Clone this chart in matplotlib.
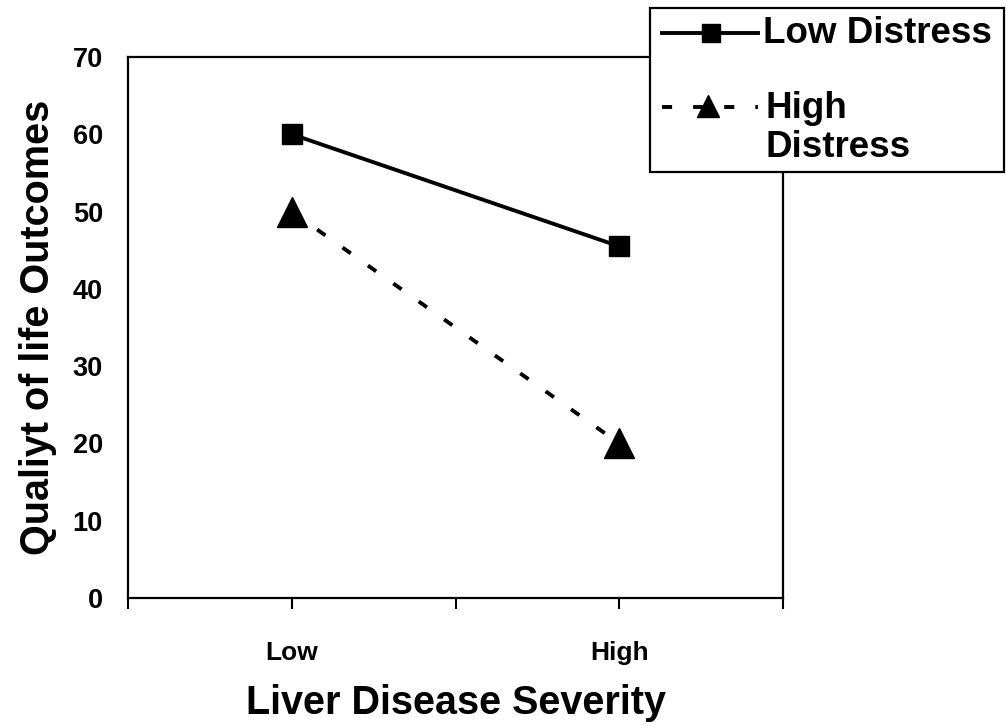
import matplotlib
matplotlib.use("Agg")
import matplotlib.pyplot as plt
from matplotlib.lines import Line2D
from matplotlib.patches import Rectangle

categories = ["Low", "High"]
low_distress = [60, 45.5]
high_distress = [50, 20]
yticks = [0, 10, 20, 30, 40, 50, 60, 70]
series_labels = ["Low Distress", "High", "Distress"]

plt.rcParams['font.family'] = ['Liberation Sans', 'DejaVu Sans']
plt.rcParams['font.weight'] = 'bold'

W, H = 1006, 728
fig = plt.figure(figsize=(W / 100, H / 100), dpi=100)


def fx(px):
    return px / W


def fy(py):
    return 1 - py / H


ax = fig.add_axes([fx(128), fy(598), fx(783) - fx(128), fy(57) - fy(598)])

LW = 2.8
DASH = (0, (2.6, 5.4))
low_style = dict(color='black', lw=LW, marker='s', ms=14, mew=1)
high_style = dict(color='black', lw=LW, ls=DASH, marker='^', ms=21, mew=1)

xpos = [0.5, 1.5]
ax.plot(xpos, low_distress, **low_style)
ax.plot(xpos, high_distress, **high_style)

ax.set_xlim(0, 2)
ax.set_ylim(0, 70)
ax.set_xticks([0, 0.5, 1, 1.5, 2])
ax.set_xticklabels(["", categories[0], "", categories[1], ""])
ax.set_yticks(yticks)
ax.tick_params(axis='x', direction='out', length=8, width=1.5, pad=23, labelsize=19)
ax.tick_params(axis='y', length=0, pad=18, labelsize=19.5)
for lab in ax.get_xticklabels() + ax.get_yticklabels():
    lab.set_fontweight('bold')
for s in ax.spines.values():
    s.set_linewidth(1.6)
    s.set_color('black')

ax.set_xlabel("Liver Disease Severity", fontsize=28.5, fontweight='bold', labelpad=14)
ax.set_ylabel("Qualiyt of life Outcomes", fontsize=28.5, fontweight='bold', labelpad=11)

# Legend box (drawn as in the original: handle aligned with first label line)
tf = fig.transFigure
fig.add_artist(Rectangle((fx(650), fy(172)), fx(1004) - fx(650), fy(8) - fy(172),
                         transform=tf, facecolor='white', edgecolor='black',
                         lw=1.6, zorder=10))
fig.add_artist(Line2D([fx(662), fx(758)], [fy(33), fy(33)], transform=tf,
                      color='black', lw=LW, zorder=11))
fig.add_artist(Line2D([fx(711)], [fy(33)], transform=tf, color='black',
                      marker='s', ms=13, mew=1, lw=0, zorder=12))
fig.add_artist(Line2D([fx(662), fx(758)], [fy(107), fy(107)], transform=tf,
                      color='black', lw=LW, ls=DASH, zorder=11))
fig.add_artist(Line2D([fx(708)], [fy(106)], transform=tf, color='black',
                      marker='^', ms=16, mew=1, lw=0, zorder=12))
LFS = 26.5
fig.text(fx(763), fy(43), series_labels[0], fontsize=LFS, fontweight='bold',
         va='baseline', ha='left', zorder=12)
fig.text(fx(765), fy(118), series_labels[1], fontsize=LFS, fontweight='bold',
         va='baseline', ha='left', zorder=12)
fig.text(fx(765), fy(157), series_labels[2], fontsize=LFS, fontweight='bold',
         va='baseline', ha='left', zorder=12)

fig.savefig("out.png", dpi=100)
